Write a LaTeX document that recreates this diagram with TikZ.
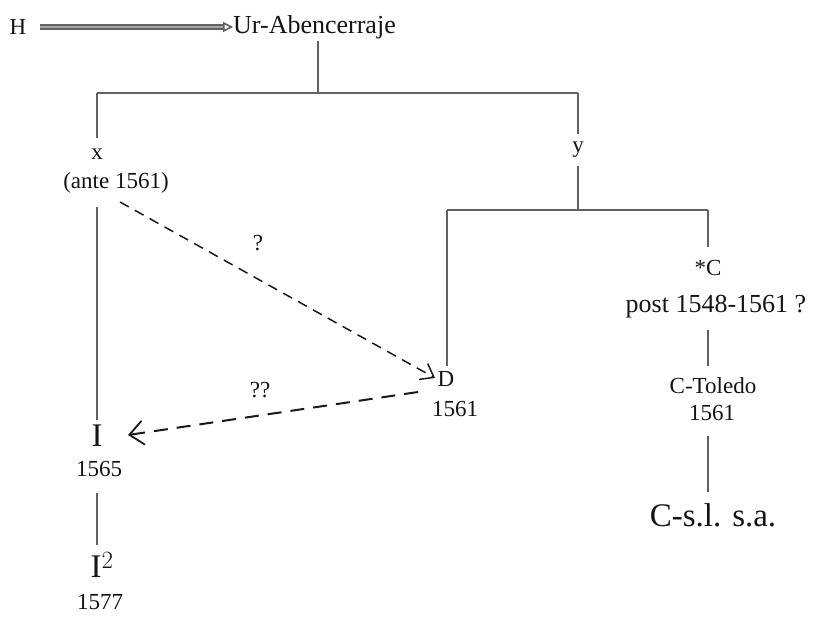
\documentclass[tikz,border=0pt]{standalone}
\usepackage{fontspec}
\setmainfont{Liberation Serif}
\usetikzlibrary{arrows.meta}
\begin{document}
\begin{tikzpicture}[x=1pt,y=-1pt,
  txt/.style={inner sep=0pt,text=black!92,font=\fontsize{23}{25}\selectfont},
  wide/.style={inner sep=0pt,text=black!92,font=\fontsize{26}{28}\selectfont},
  big/.style={inner sep=0pt,text=black!92,font=\fontsize{33}{35}\selectfont},
  tree/.style={draw=black!62,line width=2.2pt},
  dsh/.style={draw=black!90}]
\useasboundingbox (0,0) rectangle (814,618);
% nodes
\node[txt] (H) at (18,27) {H};
\node[wide,anchor=west] (U) at (233,27) {Ur-Abencerraje};
\node[txt] (x) at (97,154) {x};
\node[txt] (xd) at (116,183) {(ante 1561)};
\node[txt] (y) at (578,150) {y};
\node[big] (I) at (97,436) {I};
\node[txt] (Id) at (99,469) {1565};
\node[big] (I2) at (102,565) {I$^{2}$};
\node[txt] (I2d) at (100,602) {1577};
\node[txt] (D) at (446,379) {D};
\node[txt] (Dd) at (455,409) {1561};
\node[txt] (C) at (708,268) {*C};
\node[wide] (Cd) at (716,307) {post 1548-1561 ?};
\node[txt] (T) at (713,386) {C-Toledo};
\node[txt] (Td) at (712,413) {1561};
\node[big] (S) at (713,515) {C-s.l. s.a.};
% H arrow
\draw[draw=black!62,double=black!35,double distance=2pt,line width=2pt,-{Triangle[open,length=10pt,width=10pt,line width=1.6pt]}] (40,27) coordinate (h1) -- (U.west);
% tree
\coordinate (u0) at (318,93);
\coordinate (xl) at (97,93);
\coordinate (yr) at (578,93);
\draw[tree] (318,41) -- (u0);
\draw[tree] (xl) -- (yr);
\draw[tree] (xl) -- (97,138);
\draw[tree] (yr) -- (578,134);
\draw[tree] (97,207) -- (97,420);
\draw[tree] (97,493) -- (97,545);
\coordinate (yl) at (447,210);
\coordinate (yrr) at (708,210);
\draw[tree] (578,166) -- (578,210);
\draw[tree] (yl) -- (yrr);
\draw[tree] (yl) -- (447,366);
\draw[tree] (yrr) -- (708,247);
\draw[tree] (708,330) -- (708,366);
\draw[tree] (708,436) -- (708,492);
% dashed arrows
\draw[dsh,line width=1.5pt,dash pattern=on 10pt off 7pt,-{Straight Barb[length=12pt,width=18pt,line width=1.5pt]}] (120,202) -- (435,378);
\node[txt] (q1) at (258,243) {?};
\draw[dsh,line width=2pt,dash pattern=on 14pt off 9pt,-{Straight Barb[length=14pt,width=24pt,line width=1.8pt]}] (418,392) -- (128,435);
\node[txt] (q2) at (260,390) {??};
\end{tikzpicture}
\end{document}
